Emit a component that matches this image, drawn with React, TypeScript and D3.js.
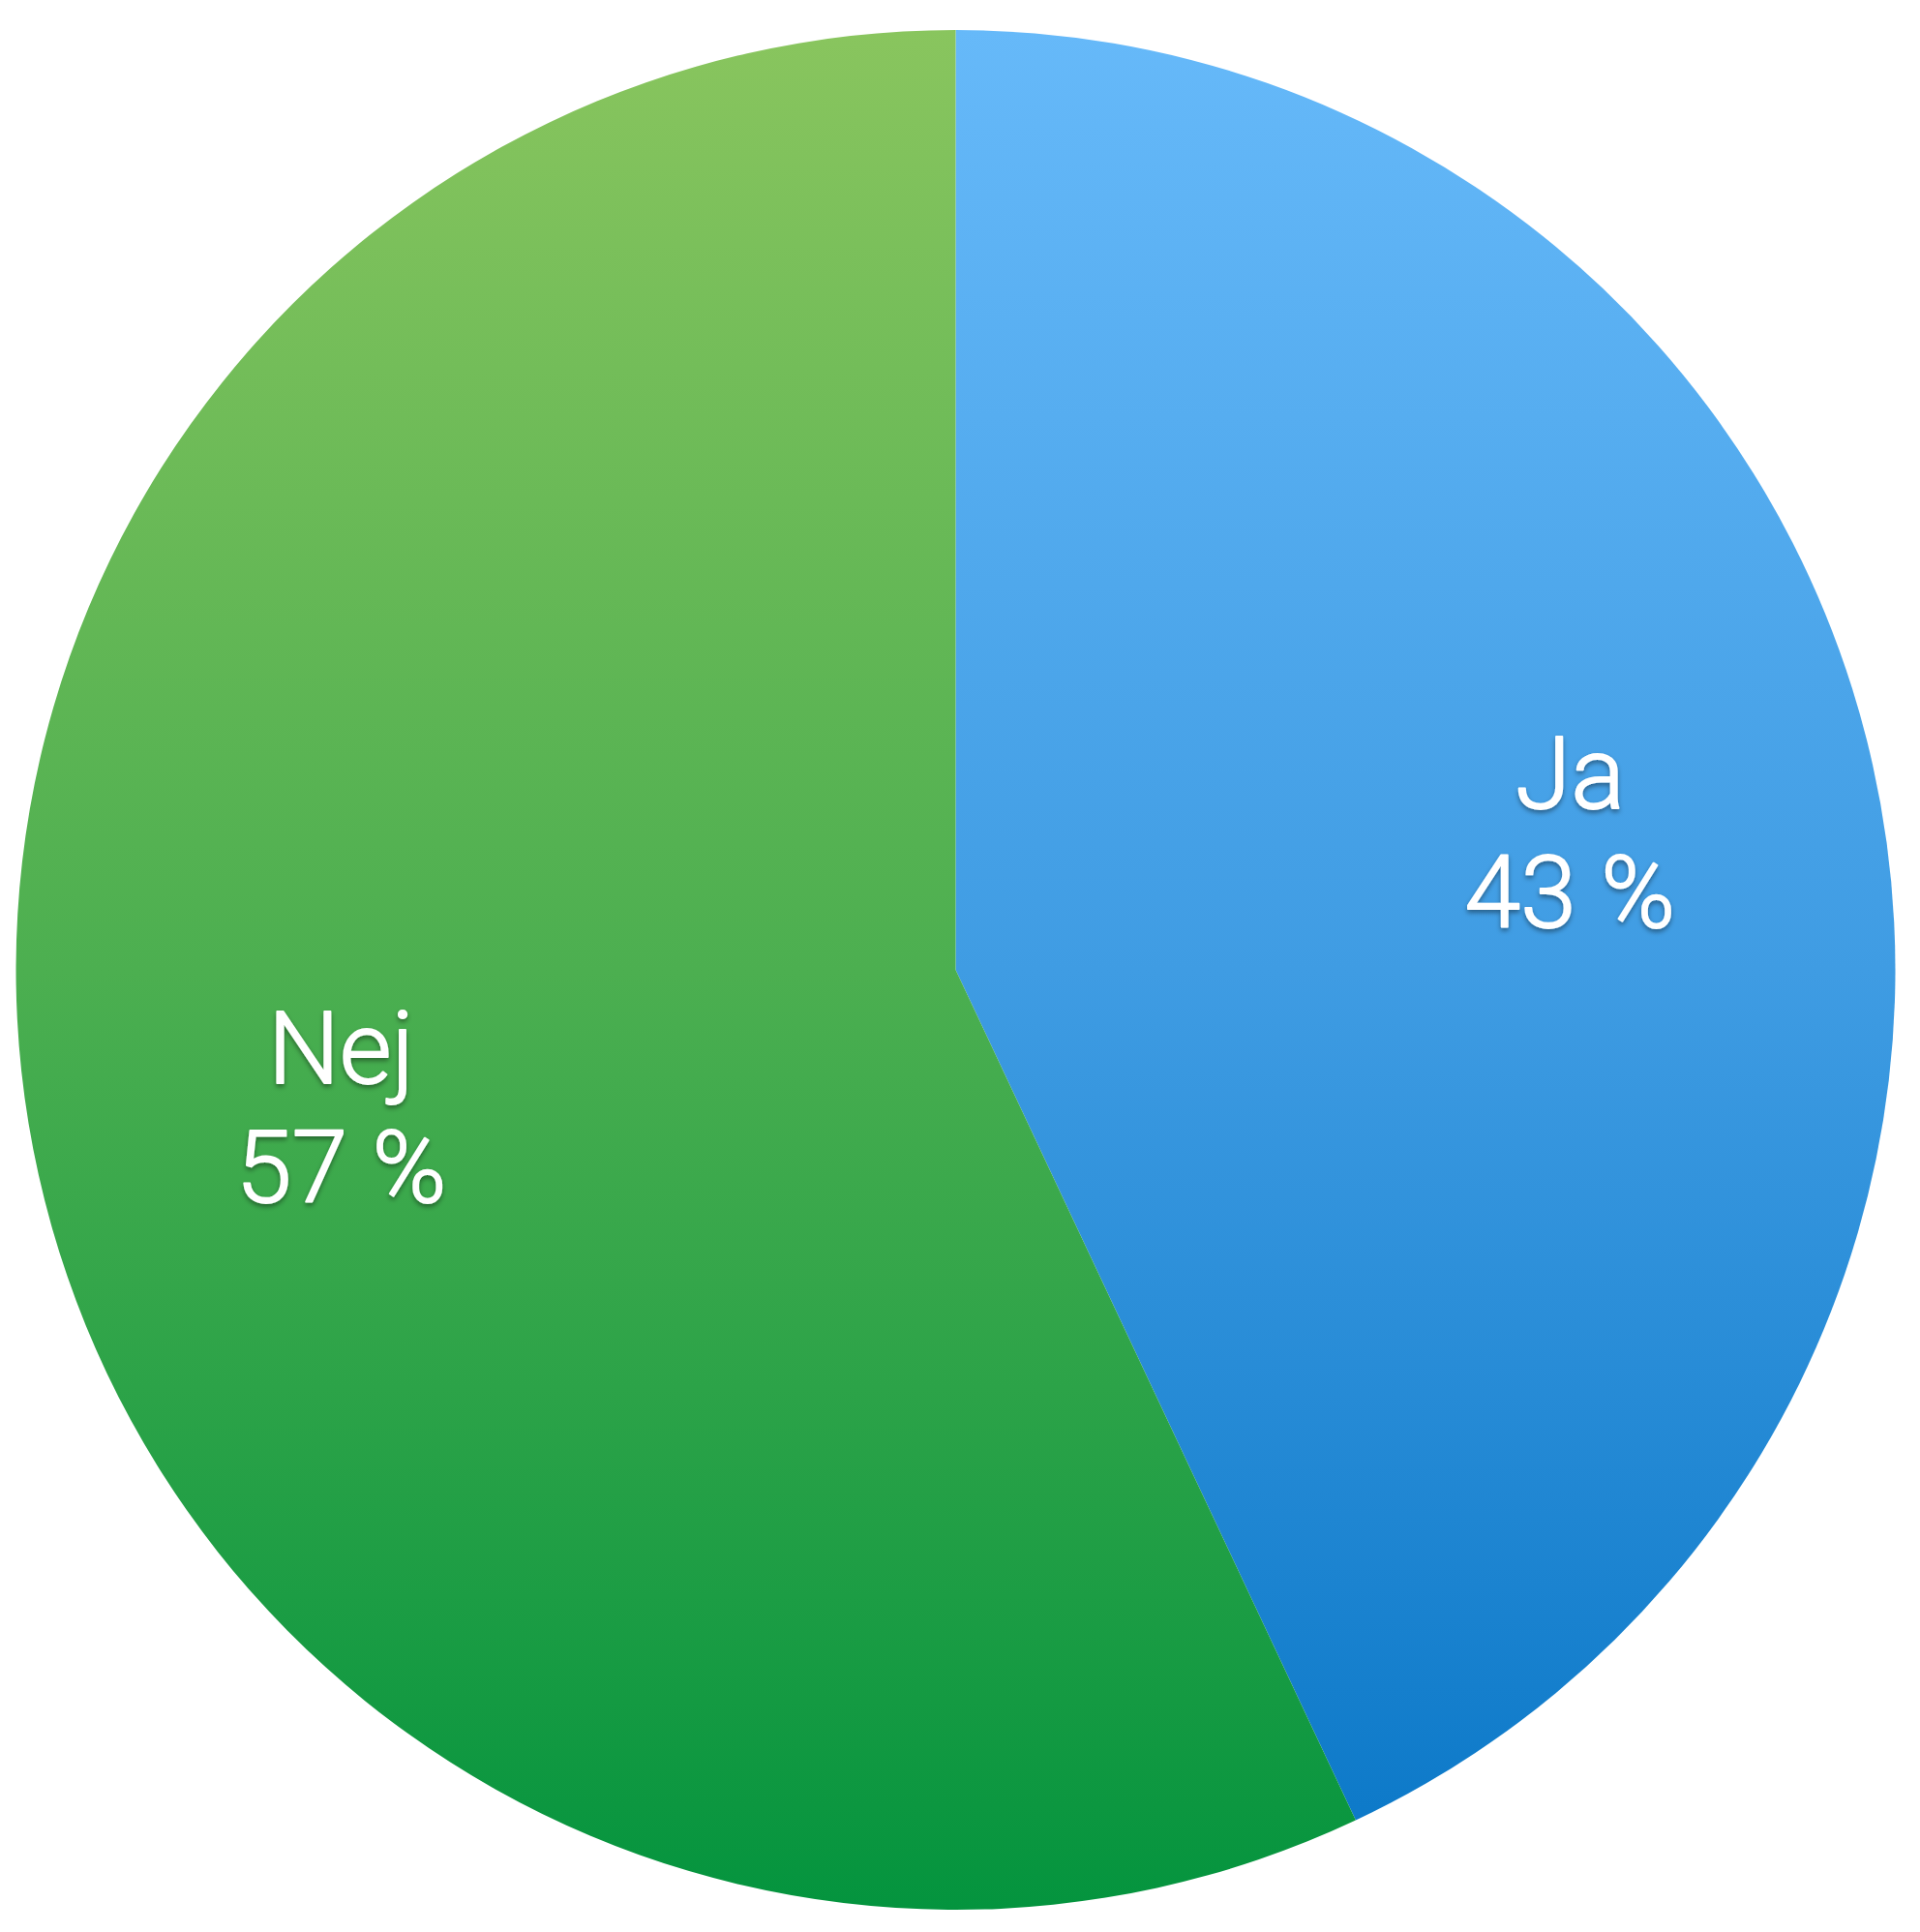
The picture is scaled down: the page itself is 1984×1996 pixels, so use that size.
import React, { useEffect, useRef } from "react";
import * as d3 from "d3";

const categories = ["Ja", "Nej"];
const values = [43, 57];
const labels = ["43 %", "57 %"];

const width = 1984;
const height = 1996;

const App: React.FC = () => {
    const svgRef = useRef<SVGSVGElement>(null);

    useEffect(() => {
        if (!svgRef.current) return;

        const cx = 987.5;
        const cy = 1002;
        const radius = 971;

        const svg = d3.select(svgRef.current)
            .attr("viewBox", [0, 0, width, height])
            .attr("width", width)
            .attr("height", height);

        svg.selectAll("*").remove();

        const defs = svg.append("defs");

        // vertical gradients spanning the whole pie (relative to its centre)
        const gradients = [
            { id: "grad-ja", top: "#66b9f9", mid: "#3f9ce3", bottom: "#0876c6" },
            { id: "grad-nej", top: "#89c55e", mid: "#4caf50", bottom: "#04943e" },
        ];
        gradients.forEach((g) => {
            const lg = defs.append("linearGradient")
                .attr("id", g.id)
                .attr("gradientUnits", "userSpaceOnUse")
                .attr("x1", 0).attr("x2", 0)
                .attr("y1", -radius).attr("y2", radius);
            lg.append("stop").attr("offset", "0%").attr("stop-color", g.top);
            lg.append("stop").attr("offset", "50%").attr("stop-color", g.mid);
            lg.append("stop").attr("offset", "100%").attr("stop-color", g.bottom);
        });

        const shadow = defs.append("filter")
            .attr("id", "text-shadow")
            .attr("x", "-20%").attr("y", "-20%")
            .attr("width", "140%").attr("height", "140%");
        shadow.append("feDropShadow")
            .attr("dx", 0)
            .attr("dy", 3)
            .attr("stdDeviation", 2.5)
            .attr("flood-color", "#000")
            .attr("flood-opacity", 0.4);

        const pie = d3.pie<number>().sort(null).value((d) => d);
        const arcs = pie(values);

        const arc = d3.arc<d3.PieArcDatum<number>>()
            .innerRadius(0)
            .outerRadius(radius);

        const labelArc = d3.arc<d3.PieArcDatum<number>>()
            .innerRadius(radius * 0.67)
            .outerRadius(radius * 0.67);

        const g = svg.append("g")
            .attr("transform", `translate(${cx},${cy})`);

        g.selectAll("path")
            .data(arcs)
            .join("path")
            .attr("d", arc)
            .attr("fill", (_, i) => `url(#${gradients[i].id})`);

        const text = g.selectAll("text.label")
            .data(arcs)
            .join("text")
            .attr("class", "label")
            .attr("transform", (d) => `translate(${labelArc.centroid(d)})`)
            .attr("text-anchor", "middle")
            .attr("fill", "#fff")
            .attr("stroke", "#fff")
            .attr("stroke-width", 1.8)
            .attr("stroke-linejoin", "round")
            .attr("font-family", "Roboto, 'Noto Sans', sans-serif")
            .attr("font-weight", 300)
            .attr("font-size", 104)
            .attr("filter", "url(#text-shadow)");

        text.append("tspan")
            .attr("x", 0)
            .attr("y", -25)
            .text((_, i) => categories[i]);

        text.append("tspan")
            .attr("x", 0)
            .attr("y", 98)
            .text((_, i) => labels[i]);
    }, []);

    return (
        <svg
            ref={svgRef}
            style={{ position: "absolute", left: 0, top: 0, display: "block" }}
        />
    );
};

export default App;
